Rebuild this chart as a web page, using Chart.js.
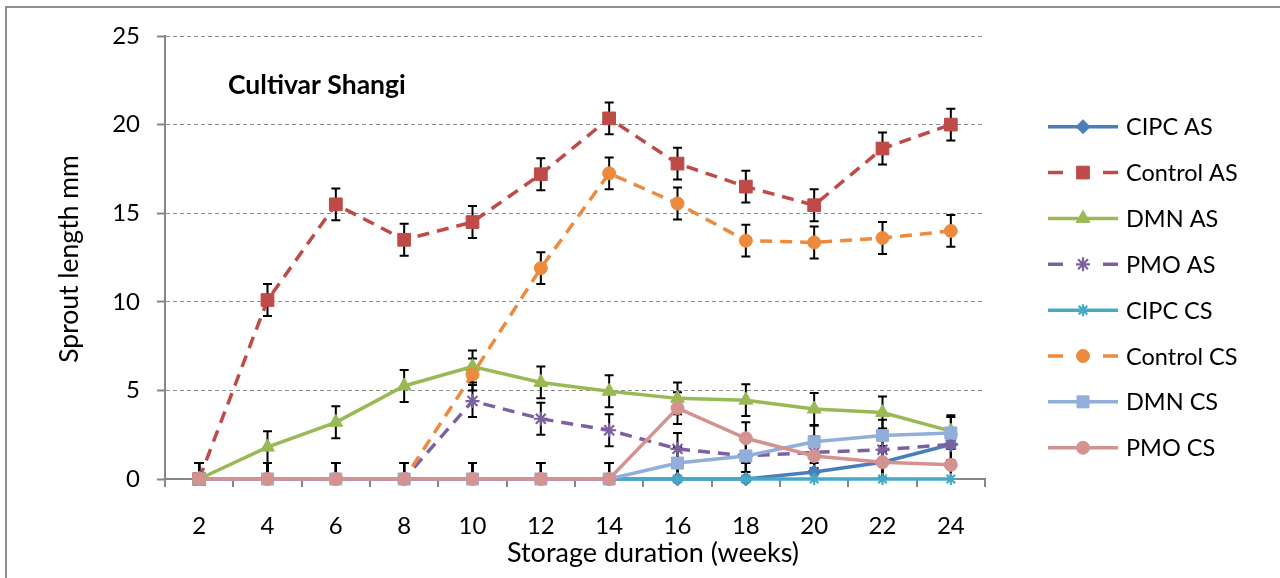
<!DOCTYPE html>
<html>
<head>
<meta charset="utf-8">
<script src="https://cdn.jsdelivr.net/npm/chart.js@4.4.1/dist/chart.umd.min.js"></script>
<style>
    html, body { margin: 0; padding: 0; background: #fff; }
    canvas { display: block; }
</style>
</head>
<body>
<canvas id="sproutChart" width="1280" height="578"></canvas>
<script>
// storage weeks on the x axis
const weeks = ['2', '4', '6', '8', '10', '12', '14', '16', '18', '20', '22', '24'];

// sprout length (mm)
const cipcAS    = [0, 0, 0, 0, 0, 0, 0, 0, 0, 0.4, 0.95, 1.95];
const controlAS = [0, 10.1, 15.5, 13.5, 14.5, 17.2, 20.35, 17.8, 16.5, 15.45, 18.65, 20.0];
const dmnAS     = [0, 1.8, 3.2, 5.25, 6.35, 5.45, 4.95, 4.55, 4.45, 3.95, 3.75, 2.7];
const pmoAS     = [0, 0, 0, 0, 4.4, 3.4, 2.75, 1.7, 1.3, 1.5, 1.65, 1.95];
const cipcCS    = [0, 0, 0, 0, 0, 0, 0, 0, 0, 0, 0, 0];
const controlCS = [0, 0, 0, 0, 5.9, 11.9, 17.25, 15.55, 13.45, 13.35, 13.6, 14.0];
const dmnCS     = [0, 0, 0, 0, 0, 0, 0, 0.9, 1.3, 2.1, 2.45, 2.6];
const pmoCS     = [0, 0, 0, 0, 0, 0, 0, 4.0, 2.3, 1.3, 0.95, 0.8];

// error bar half-length, same for every series
const stdErr = [0.9, 0.9, 0.9, 0.9, 0.9, 0.9, 0.9, 0.9, 0.9, 0.9, 0.9, 0.9];

const yMin = 0;
const yMax = 25;
const yStep = 5;

const FONT = 'Lato, Carlito, "Open Sans", sans-serif';
const DASH = [12, 8];

const series = [
    { label: 'CIPC AS',    data: cipcAS,    color: '#4A7EBB', style: 'rectRot',  radius: 7,   dash: [] },
    { label: 'Control AS', data: controlAS, color: '#BE4B48', style: 'rect',     radius: 9,   dash: DASH },
    { label: 'DMN AS',     data: dmnAS,     color: '#98B954', style: 'triangle', radius: 8,   dash: [] },
    { label: 'PMO AS',     data: pmoAS,     color: '#7D60A0', style: 'star',     radius: 7,   dash: DASH },
    { label: 'CIPC CS',    data: cipcCS,    color: '#46AAC5', style: 'star',     radius: 6,   dash: [] },
    { label: 'Control CS', data: controlCS, color: '#EC8A3E', style: 'circle',   radius: 6.5, dash: DASH },
    { label: 'DMN CS',     data: dmnCS,     color: '#92AEDA', style: 'rect',     radius: 8.5, dash: [] },
    { label: 'PMO CS',     data: pmoCS,     color: '#D49290', style: 'circle',   radius: 6.5, dash: [] },
];

const datasets = series.map((s, i) => ({
    label: s.label,
    data: s.data,
    errors: stdErr,
    borderColor: s.color,
    backgroundColor: s.color,
    borderWidth: 3.5,
    borderDash: s.dash,
    tension: 0,
    pointStyle: s.style,
    pointRadius: s.radius,
    pointHoverRadius: s.radius,
    pointBackgroundColor: s.color,
    pointBorderColor: s.color,
    pointBorderWidth: s.style === 'star' ? 2.2 : 1,
    clip: false,
    order: series.length - 1 - i, // later series on top, like the original
}));

const errorBars = {
    id: 'errorBars',
    beforeDatasetsDraw(chart) {
        const { ctx, chartArea: a, scales: { y } } = chart;
        ctx.save();
        ctx.beginPath();
        ctx.rect(a.left, a.top, a.right - a.left, a.bottom - a.top);
        ctx.clip();
        ctx.strokeStyle = '#000';
        ctx.lineWidth = 2;
        chart.data.datasets.forEach((ds, i) => {
            const meta = chart.getDatasetMeta(i);
            meta.data.forEach((pt, j) => {
                const top = y.getPixelForValue(ds.data[j] + ds.errors[j]);
                const bot = y.getPixelForValue(ds.data[j] - ds.errors[j]);
                ctx.beginPath();
                ctx.moveTo(pt.x, top);
                ctx.lineTo(pt.x, bot);
                ctx.moveTo(pt.x - 4.5, top);
                ctx.lineTo(pt.x + 4.5, top);
                ctx.moveTo(pt.x - 4.5, bot);
                ctx.lineTo(pt.x + 4.5, bot);
                ctx.stroke();
            });
        });
        ctx.restore();
    },
};

const decorations = {
    id: 'decorations',
    beforeDraw(chart) {
        const ctx = chart.ctx;
        ctx.save();
        ctx.strokeStyle = '#8e8e8e';
        ctx.lineWidth = 2;
        ctx.strokeRect(6, 7, 1290, 600);
        ctx.restore();
    },
    afterDraw(chart) {
        const ctx = chart.ctx;
        ctx.save();
        ctx.fillStyle = '#000';

        // chart title inside the plot
        ctx.font = `bold 26.5px ${FONT}`;
        ctx.textAlign = 'left';
        ctx.textBaseline = 'alphabetic';
        ctx.fillText('Cultivar Shangi', 228, 94);

        // axis titles
        ctx.font = `27px ${FONT}`;
        ctx.textAlign = 'center';
        ctx.fillText('Storage duration (weeks)', 653, 562);
        ctx.save();
        ctx.translate(78, 259);
        ctx.rotate(-Math.PI / 2);
        ctx.font = `26.5px ${FONT}`;
        ctx.fillText('Sprout length mm', 0, 0);
        ctx.restore();

        // legend: line + marker + label
        const drawPoint = Chart.helpers && Chart.helpers.drawPoint;
        chart.data.datasets.forEach((ds, i) => {
            const yy = 126.7 + 45.86 * i;
            ctx.save();
            ctx.strokeStyle = ds.borderColor;
            ctx.lineWidth = ds.borderWidth;
            ctx.setLineDash(ds.borderDash.length ? [15, 40] : []);
            ctx.beginPath();
            ctx.moveTo(1048, yy);
            ctx.lineTo(1118, yy);
            ctx.stroke();
            ctx.setLineDash([]);
            ctx.fillStyle = ds.pointBackgroundColor;
            ctx.strokeStyle = ds.pointBorderColor;
            ctx.lineWidth = ds.pointBorderWidth;
            if (drawPoint) {
                drawPoint(ctx, {
                    pointStyle: ds.pointStyle,
                    radius: ds.pointRadius,
                    borderWidth: ds.pointBorderWidth,
                    rotation: 0,
                }, 1083, yy);
            }
            ctx.restore();

            ctx.font = `23.5px ${FONT}`;
            ctx.textAlign = 'left';
            ctx.textBaseline = 'middle';
            ctx.fillStyle = '#000';
            ctx.fillText(ds.label, 1126, yy + 1);
        });
        ctx.restore();
    },
};

Chart.defaults.font.family = FONT;
Chart.defaults.color = '#000';

new Chart(document.getElementById('sproutChart'), {
    type: 'line',
    data: { labels: weeks, datasets },
    options: {
        responsive: false,
        animation: false,
        devicePixelRatio: 1,
        layout: { padding: { top: 36, right: 295, bottom: 0, left: 0 } },
        plugins: {
            legend: { display: false },
            title: { display: false },
            tooltip: { enabled: false },
        },
        scales: {
            x: {
                type: 'category',
                offset: true,
                afterFit(scale) { scale.height = 99; },
                grid: {
                    offset: true,
                    drawOnChartArea: false,
                    drawTicks: true,
                    tickLength: 8,
                    color: '#868686',
                    lineWidth: 2,
                },
                border: { color: '#868686', width: 2 },
                ticks: { font: { size: 24 }, color: '#000', padding: 25, maxRotation: 0 },
            },
            y: {
                min: yMin,
                max: yMax,
                afterFit(scale) { scale.width = 165; },
                ticks: { stepSize: yStep, font: { size: 24 }, color: '#000', padding: 17 },
                grid: {
                    color: '#8c8c8c',
                    lineWidth: 1,
                    tickLength: 8,
                    tickColor: '#868686',
                    tickWidth: 2,
                    tickBorderDash: [],
                },
                border: { display: true, color: '#868686', width: 2, dash: [4, 3] },
            },
        },
    },
    plugins: [errorBars, decorations],
});
</script>
</body>
</html>
